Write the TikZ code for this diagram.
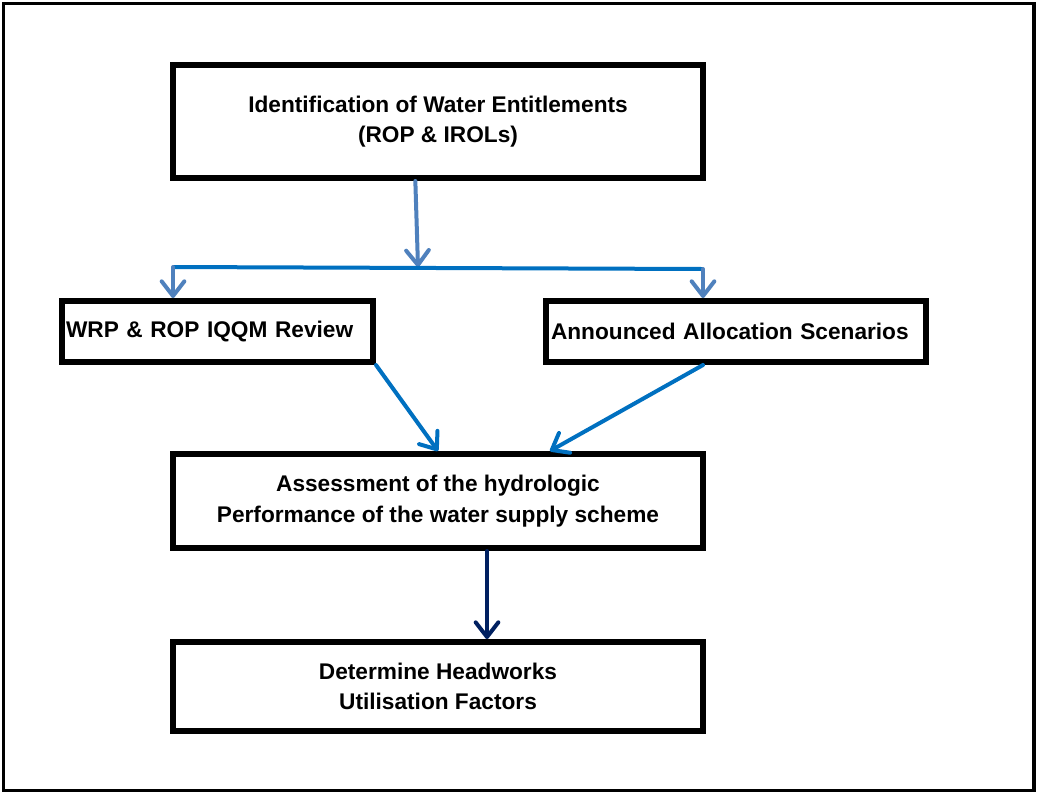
\documentclass[tikz,border=0pt]{standalone}
\usepackage{fontspec}
\setmainfont{Liberation Sans}
\usepackage{xcolor}
\usepackage{tikz}
\usetikzlibrary{positioning, arrows.meta}
\definecolor{steelblue}{HTML}{4F81BD}
\definecolor{flowblue}{HTML}{0070C0}
\definecolor{darknavy}{HTML}{002060}

\tikzset{
  stagebox/.style={draw, line width=4.5pt, inner sep=0pt, align=center,
    font=\fontsize{17}{23}\selectfont\bfseries, minimum width=397.5pt},
  singlebox/.style={draw, line width=4.5pt, inner ysep=0pt, align=left,
    font=\fontsize{17}{23}\selectfont\bfseries, minimum height=45.75pt},
  link/.style={line width=3pt, line cap=round,
    -{Straight Barb[length=11pt, width=17pt, round]}},
}

\begin{document}
\begin{tikzpicture}[x=0.75pt, y=-0.75pt]
    \useasboundingbox (0,0) rectangle (1037,793);
    \draw[line width=2.6pt] (3.5,3.5) rectangle (1034,790.5);

    % boxes
    \node[stagebox, minimum height=84.75pt] (entitle) at (438,121.5)
      {Identification of Water Entitlements\\(ROP \& IROLs)};
    \node[singlebox, inner xsep=3pt, text width=227.25pt] (review) at (217.5,331.5)
      {WRP \& ROP IQQM Review};
    \node[singlebox, inner xsep=3.75pt, text width=277.5pt] (alloc) at (736,331.5)
      {Announced Allocation Scenarios};
    \node[stagebox, minimum height=70.5pt] (assess) at (438,501)
      {Assessment of the hydrologic\\Performance of the water supply scheme};
    \node[stagebox, minimum height=66.75pt] (factors) at (438,686.5)
      {Determine Headworks\\Utilisation Factors};

    % split line
    \coordinate (split) at (418,267);
    \coordinate (lbend) at (173,267);
    \coordinate (rbend) at (703,269);

    \draw[link, steelblue] ([xshift=-17pt]entitle.south) -- (split);
    \draw[line width=3pt, flowblue] (lbend) -- (rbend);
    \draw[link, steelblue] (lbend) -- (lbend |- review.north);
    \draw[link, steelblue] (rbend) -- (rbend |- alloc.north);

    \draw[link, flowblue] (review.south east) -- (assess.north);
    \draw[link, flowblue] (alloc.south -| rbend) -- ([xshift=84pt]assess.north);
    \draw[link, darknavy] ([xshift=36.75pt]assess.south) -- ([xshift=36.75pt]factors.north);
  \end{tikzpicture}
\end{document}
